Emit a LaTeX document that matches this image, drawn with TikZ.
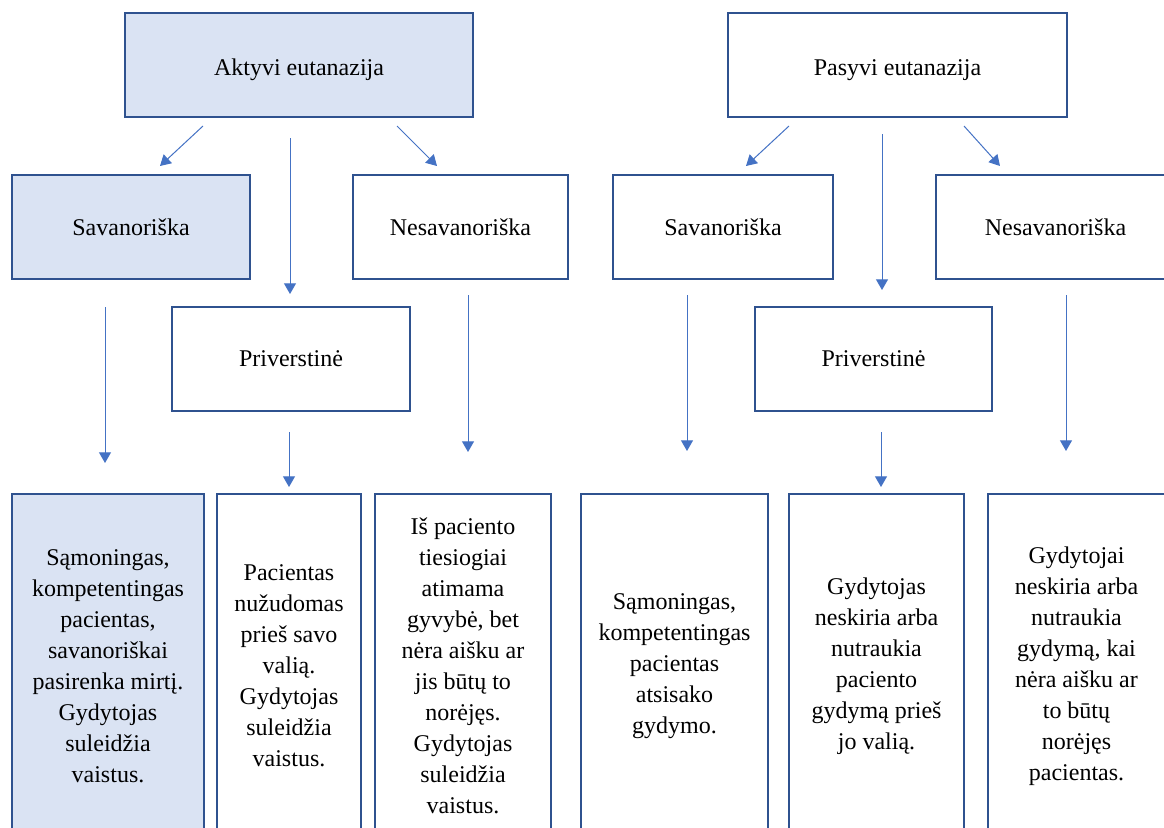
\documentclass[tikz,border=0pt]{standalone}
\usepackage{fontspec}
\setmainfont{Liberation Serif}
\usetikzlibrary{arrows.meta}
\definecolor{boxline}{HTML}{2F528F}
\definecolor{boxfill}{HTML}{DAE3F3}
\definecolor{arrblue}{HTML}{4472C4}
\begin{document}
\begin{tikzpicture}[x=0.75pt,y=-0.75pt,
    box/.style={draw=boxline,line width=1.1pt,inner sep=0pt,align=center,
      font=\fontsize{18}{23.25}\selectfont},
    sz/.style 2 args={minimum width=#1*0.75pt,minimum height=#2*0.75pt},
    arr/.style={draw=arrblue,line width=0.75pt,-{Triangle[length=8pt,width=9pt]}}]
    \useasboundingbox (0,0) rectangle (1164,828);
    \clip (0,0) rectangle (1164,828);
    % top row
    \node[box,fill=boxfill,sz={348}{104},text height=19.5pt] (akt) at (299,65) {Aktyvi eutanazija};
    \node[box,sz={339}{104},text height=19.5pt] (pas) at (897.5,65) {Pasyvi eutanazija};
    % second row
    \node[box,fill=boxfill,sz={238}{104}] (savA) at (131,227) {Savanoriška};
    \node[box,sz={215}{104}] (nesA) at (460.5,227) {Nesavanoriška};
    \node[box,sz={220}{104}] (savP) at (723,227) {Savanoriška};
    \node[box,sz={239}{104}] (nesP) at (1055.5,227) {Nesavanoriška};
    \node[box,sz={238}{104}] (prvA) at (291,359) {Priverstinė};
    \node[box,sz={237}{104}] (prvP) at (873.5,359) {Priverstinė};
    % descriptions
    \node[box,fill=boxfill,sz={192}{344}] (dSavA) at (108,666)
      {Sąmoningas,\\kompetentingas\\pacientas,\\savanoriškai\\pasirenka mirtį.\\Gydytojas\\suleidžia\\vaistus.};
    \node[box,sz={144}{344}] (dPrvA) at (289,666)
      {Pacientas\\nužudomas\\prieš savo\\valią.\\Gydytojas\\suleidžia\\vaistus.};
    \node[box,sz={176}{344}] (dNesA) at (463,666)
      {Iš paciento\\tiesiogiai\\atimama\\gyvybė, bet\\nėra aišku ar\\jis būtų to\\norėjęs.\\Gydytojas\\suleidžia\\vaistus.};
    \node[box,sz={187}{344}] (dSavP) at (674.5,666)
      {Sąmoningas,\\kompetentingas\\pacientas\\atsisako\\gydymo.};
    \node[box,sz={175}{344}] (dPrvP) at (876.5,666)
      {Gydytojas\\neskiria arba\\nutraukia\\paciento\\gydymą prieš\\jo valią.};
    \node[box,sz={177}{344}] (dNesP) at (1076.5,666)
      {Gydytojai\\neskiria arba\\nutraukia\\gydymą, kai\\nėra aišku ar\\to būtų\\norėjęs\\pacientas.};
    % arrow ends
    \coordinate (aL) at (203,126);  \coordinate (aLe) at (160,166);
    \coordinate (aM) at (290,138);  \coordinate (aMe) at (290,294);
    \coordinate (aR) at (397,126);  \coordinate (aRe) at (437,166);
    \coordinate (aS) at (105,307);  \coordinate (aSe) at (105,463);
    \coordinate (aP) at (289,432);  \coordinate (aPe) at (289,487);
    \coordinate (aN) at (468,295);  \coordinate (aNe) at (468,452);
    \coordinate (pL) at (789,126);  \coordinate (pLe) at (746,166);
    \coordinate (pM) at (882,134);  \coordinate (pMe) at (882,290);
    \coordinate (pR) at (964,126);  \coordinate (pRe) at (1000,166);
    \coordinate (pS) at (687,295);  \coordinate (pSe) at (687,451);
    \coordinate (pP) at (881,432);  \coordinate (pPe) at (881,487);
    \coordinate (pN) at (1066,295); \coordinate (pNe) at (1066,451);
    \draw[arr] (aL) -- (aLe);
    \draw[arr] (aM) -- (aMe);
    \draw[arr] (aR) -- (aRe);
    \draw[arr] (aS) -- (aSe);
    \draw[arr] (aP) -- (aPe);
    \draw[arr] (aN) -- (aNe);
    \draw[arr] (pL) -- (pLe);
    \draw[arr] (pM) -- (pMe);
    \draw[arr] (pR) -- (pRe);
    \draw[arr] (pS) -- (pSe);
    \draw[arr] (pP) -- (pPe);
    \draw[arr] (pN) -- (pNe);
\end{tikzpicture}
\end{document}
